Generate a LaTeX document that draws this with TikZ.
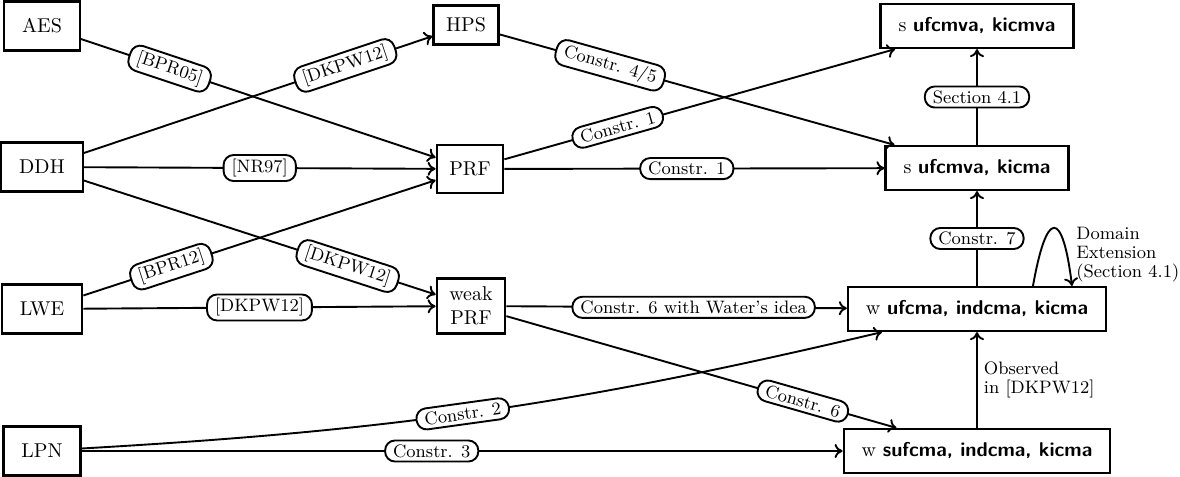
\documentclass[tikz,border=0pt]{standalone}
\usepackage{tikz}
\usetikzlibrary{arrows.meta}
\newcommand{\sfb}[1]{\textsf{\textbf{#1}}}

\begin{document}
\begin{tikzpicture}[
  x=0.5pt, y=-0.5pt,
  >={To[length=4pt,width=7pt]},
  box/.style={draw, line width=1.1pt, align=center, inner xsep=9pt, inner ysep=4pt},
  src/.style={box, minimum height=24.5pt},
  mid/.style={box, inner xsep=6.3pt},
  goal/.style={box, minimum height=22pt},
  arr/.style={->, line width=0.95pt},
  lbl/.style={draw, line width=0.95pt, fill=white, rounded corners=5pt, font=\small, inner xsep=4pt, inner ysep=2pt},
  note/.style={font={\linespread{0.86}\small}, align=left, inner sep=0pt}
]
\useasboundingbox (0,0) rectangle (1180,477);
% assumptions
\node[src] (aes) at (42,26) {AES};
\node[src] (ddh) at (42,167) {DDH};
\node[src] (lwe) at (42,309) {LWE};
\node[src] (lpn) at (42,451) {LPN};
% primitives
\node[mid, minimum height=19.5pt] (hps) at (466,25) {HPS};
\node[mid, minimum height=24pt] (prf) at (470,169) {PRF};
\node[mid, minimum height=27.5pt] (wprf) at (471,306) {weak\\PRF};
% security notions
\node[goal] (smv) at (977,26) {s \sfb{ufcmva, kicmva}};
\node[goal] (sma) at (977,168) {s \sfb{ufcmva, kicma}};
\node[goal] (wuf) at (977,309) {w \sfb{ufcma, indcma, kicma}};
\node[goal] (wsuf) at (977,451) {w \sfb{sufcma, indcma, kicma}};

\draw[arr] (aes) -- node[lbl, sloped, pos=0.25] {[BPR05]} (prf);
\draw[arr] (ddh) -- node[lbl, sloped, pos=0.75] {[DKPW12]} (hps);
\draw[arr] (ddh) -- node[lbl, pos=0.5] {[NR97]} (prf);
\draw[arr] (ddh) -- node[lbl, sloped, pos=0.75] {[DKPW12]} (wprf);
\draw[arr] (lwe) -- node[lbl, sloped, pos=0.25] {[BPR12]} (prf);
\draw[arr] (lwe) -- node[lbl, pos=0.5] {[DKPW12]} (wprf);
\draw[arr] (lpn) to[bend right=5] node[lbl, sloped, pos=0.47] {Constr. 2} (wuf);
\draw[arr] (lpn) -- node[lbl, pos=0.46] {Constr. 3} (wsuf);
\draw[arr] (hps) -- node[lbl, sloped, pos=0.28] {Constr. 4/5} (sma);
\draw[arr] (prf) -- node[lbl, sloped, pos=0.29] {Constr. 1} (smv);
\draw[arr] (prf) -- node[lbl, pos=0.48] {Constr. 1} (sma);
\draw[arr] (wprf) -- node[lbl, pos=0.55] {Constr. 6 with Water's idea} (wuf);
\draw[arr] (wprf) -- node[lbl, sloped, pos=0.76] {Constr. 6} (wsuf);
\draw[arr] (sma) -- node[lbl] {Section 4.1} (smv);
\draw[arr] (wuf) -- node[lbl] {Constr. 7} (sma);
\draw[arr] (wsuf) -- node[note, right=3pt] {Observed\\in [DKPW12]} (wuf);
% domain extension loop
\draw[arr] ([xshift=28pt]wuf.north) .. controls +(80:39pt) and +(97:39pt) .. ([xshift=47.5pt]wuf.north);
\node[note, anchor=west] (domext) at (1076,255) {Domain\\Extension\\(Section 4.1)};
\end{tikzpicture}
\end{document}
